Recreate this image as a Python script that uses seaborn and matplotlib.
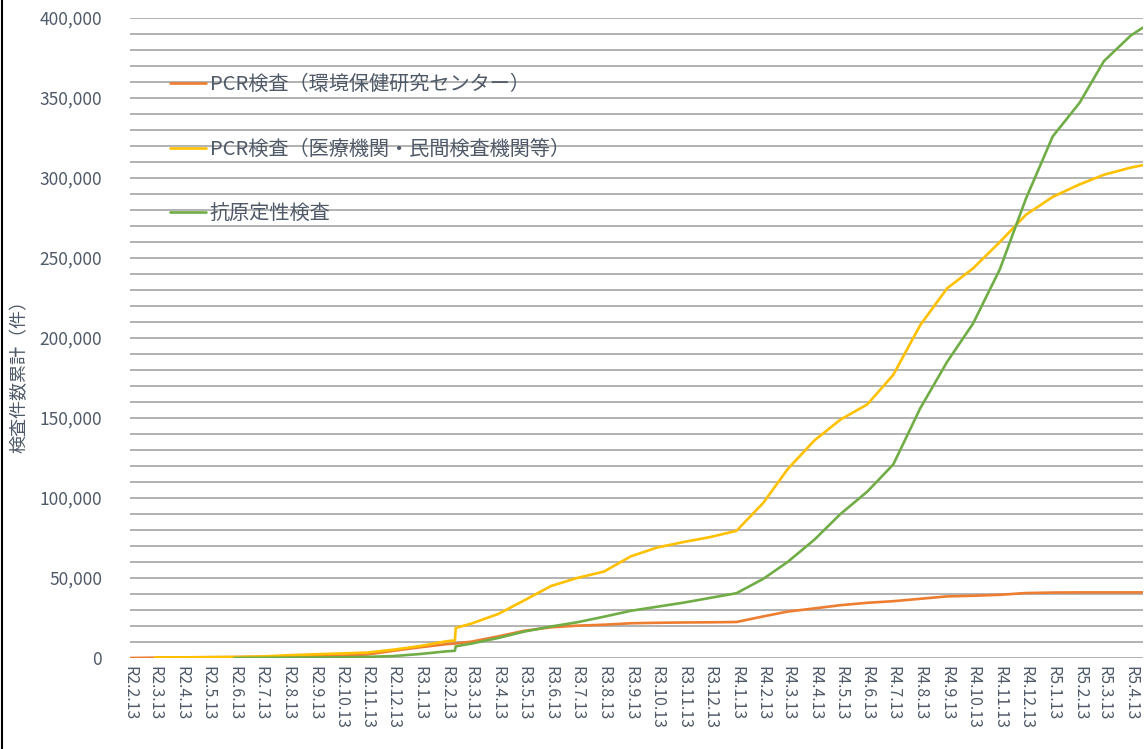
import numpy as np
import pandas as pd
import matplotlib
matplotlib.use("Agg")
import matplotlib.pyplot as plt
import matplotlib.ticker as mticker
from matplotlib.lines import Line2D
import seaborn as sns

# sample dates (Reiwa notation), values in thousands of tests
dates = ["R2.2.13", "R2.3.13", "R2.4.13", "R2.5.13", "R2.6.13", "R2.7.13", "R2.8.13",
         "R2.9.13", "R2.10.13", "R2.11.13", "R2.12.13", "R3.1.13", "R3.2.13", "R3.2.22",
         "R3.2.23", "R3.3.13", "R3.4.13", "R3.5.13", "R3.6.13", "R3.7.13", "R3.8.13",
         "R3.9.13", "R3.10.13", "R3.11.13", "R3.12.13", "R4.1.13", "R4.2.13", "R4.3.13",
         "R4.4.13", "R4.5.13", "R4.6.13", "R4.7.13", "R4.8.13", "R4.9.13", "R4.10.13",
         "R4.11.13", "R4.12.13", "R5.1.13", "R5.2.13", "R5.3.13", "R5.4.13", "R5.4.27"]

pcr_center = [0, 0.2, 0.4, 0.5, 0.6, 0.8, 1.0,
              1.2, 1.4, 2.2, 4.5, 6.7, 8.7, 9.0,
              9.1, 10.2, 13.5, 17.0, 19.2, 20.2, 20.8,
              21.7, 22.0, 22.2, 22.3, 22.5, 26.0, 29.0,
              31.0, 33.0, 34.5, 35.5, 37.0, 38.5, 38.9,
              39.5, 40.6, 40.9, 41.0, 41.0, 41.0, 41.0]

pcr_private = [np.nan, 0.3, 0.4, 0.5, 0.6, 0.9, 1.7,
               2.3, 2.8, 3.4, 5.2, 7.5, 10.5, 11.0,
               18.8, 21.5, 27.5, 36.0, 45.0, 50.0, 54.0,
               63.5, 69.0, 72.5, 75.5, 79.5, 97.0, 118.0,
               136.0, 149.0, 158.5, 177.0, 208.0, 231.0, 243.5,
               260.0, 277.0, 288.2, 296.0, 302.0, 306.5, 308.0]

antigen = [np.nan, np.nan, np.nan, np.nan, 0.0, 0.1, 0.2,
           0.3, 0.4, 0.7, 1.2, 2.5, 4.2, 4.5,
           7.3, 9.0, 12.5, 16.5, 19.7, 22.3, 25.8,
           29.5, 32.0, 34.6, 37.5, 40.5, 49.5, 60.0,
           74.0, 90.0, 104.0, 121.0, 156.0, 185.0, 209.0,
           243.0, 287.0, 326.0, 347.0, 373.0, 389.0, 394.0]

tick_labels = ["R2.2.13", "R2.3.13", "R2.4.13", "R2.5.13", "R2.6.13", "R2.7.13", "R2.8.13",
               "R2.9.13", "R2.10.13", "R2.11.13", "R2.12.13", "R3.1.13", "R3.2.13", "R3.3.13",
               "R3.4.13", "R3.5.13", "R3.6.13", "R3.7.13", "R3.8.13", "R3.9.13", "R3.10.13",
               "R3.11.13", "R3.12.13", "R4.1.13", "R4.2.13", "R4.3.13", "R4.4.13", "R4.5.13",
               "R4.6.13", "R4.7.13", "R4.8.13", "R4.9.13", "R4.10.13", "R4.11.13", "R4.12.13",
               "R5.1.13", "R5.2.13", "R5.3.13", "R5.4.13"]

series_names = ["PCR検査（環境保健研究センター）", "PCR検査（医療機関・民間検査機関等）", "抗原定性検査"]
colors = ["#ED7D31", "#FFC000", "#70AD47"]


def reiwa(s):
    y, m, d = s[1:].split(".")
    return pd.Timestamp(int(y) + 2018, int(m), int(d))


x = [reiwa(s) for s in dates]
df = pd.concat([
    pd.DataFrame({"date": x, "count": np.array(v) * 1000, "kind": name})
    for v, name in zip([pcr_center, pcr_private, antigen], series_names)
], ignore_index=True).dropna()

sns.set_style("white")
plt.rcParams["font.family"] = ["Noto Sans CJK JP", "DejaVu Sans"]
text_color = "#4f5968"

fig, ax = plt.subplots(figsize=(11.44, 7.49), dpi=100)
fig.subplots_adjust(left=0.1136, right=0.999, top=0.976, bottom=0.1215)

sns.lineplot(data=df, x="date", y="count", hue="kind", hue_order=series_names,
             palette=colors, linewidth=1.9, estimator=None, sort=False, ax=ax)

ax.set_xlim(x[0], x[-1])
ax.set_ylim(0, 400000)
ax.set_yticks(range(0, 400001, 50000))
ax.set_yticks(range(0, 400001, 10000), minor=True)
ax.yaxis.set_major_formatter(mticker.FuncFormatter(lambda v, p: f"{int(v):,}"))
ax.grid(True, axis="y", which="both", color="#a6a6a6", linewidth=1.2)
ax.grid(False, axis="x")
ax.set_axisbelow(True)

ax.set_xticks([reiwa(s) for s in tick_labels])
ax.set_xticklabels(tick_labels, rotation=-90, fontsize=11.5, color=text_color)
ax.tick_params(axis="x", length=0, pad=6)
ax.tick_params(axis="y", which="both", length=0, pad=20, labelsize=12.5, labelcolor=text_color)
for s in ax.spines.values():
    s.set_visible(False)

ax.set_xlabel("")
ax.set_ylabel("検査件数累計（件）", fontsize=13, color=text_color)
ax.yaxis.set_label_coords(-0.1, 0.447)

handles, labels = ax.get_legend_handles_labels()
ax.legend(handles, labels, loc="upper left", bbox_to_anchor=(0.032, 0.925), frameon=False,
          fontsize=14.5, labelcolor=text_color, labelspacing=2.17, handlelength=1.75,
          handletextpad=0.2, borderaxespad=0)

fig.add_artist(Line2D([0.002, 0.002], [0, 1], color="black", linewidth=1.5))

fig.savefig("out.png", dpi=100)
